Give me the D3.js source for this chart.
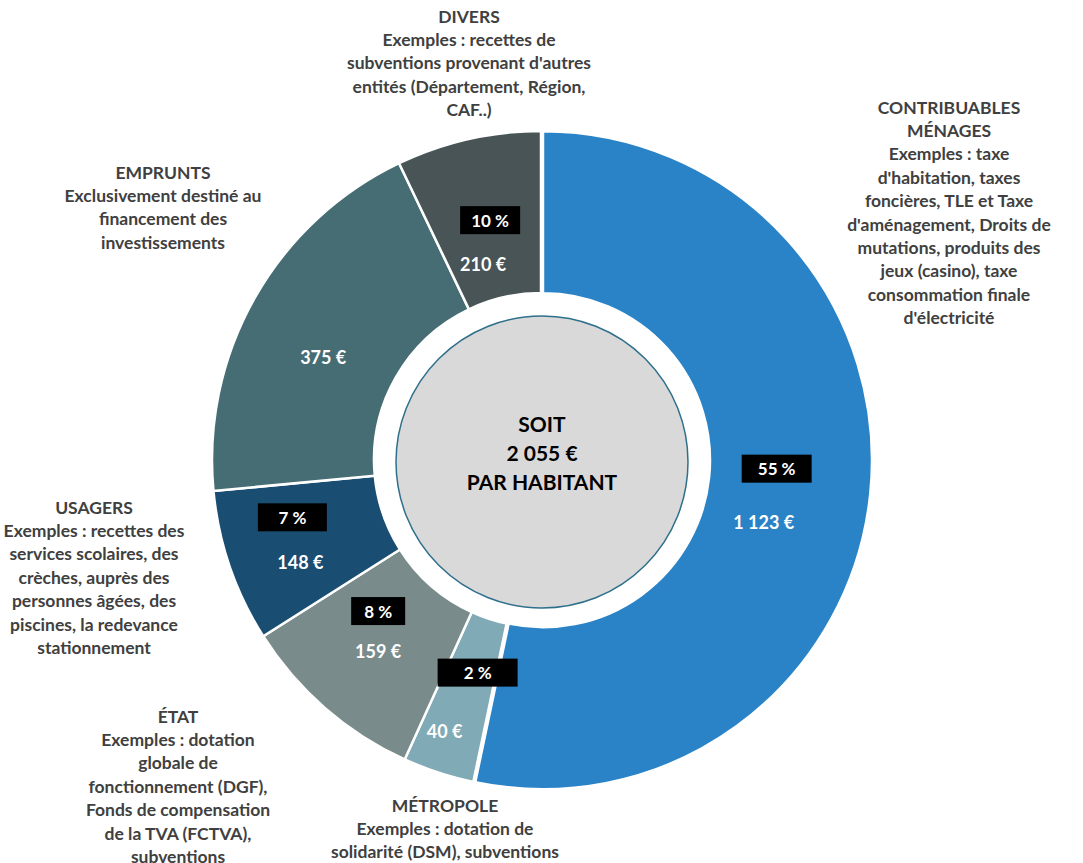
<!DOCTYPE html>
<html>
<head>
<meta charset="utf-8">
<script src="https://cdn.jsdelivr.net/npm/d3@7"></script>
<style>
  html, body { margin: 0; padding: 0; background: #fff; }
  svg { display: block; }
  text { font-family: Lato, "Open Sans", sans-serif; font-weight: bold; }
</style>
</head>
<body>
<svg id="chart" width="1083" height="863"></svg>
<script>
// -------------- DATA ----------------- //
const categories = ["CONTRIBUABLES MÉNAGES", "MÉTROPOLE", "ÉTAT", "USAGERS", "EMPRUNTS", "DIVERS"];
const amounts = [1123, 40, 159, 148, 375, 210];           // € par habitant (labels)
const percents = [55, 2, 8, 7, 18, 10];                   // % labels
const sliceShares = [53.3, 3.5, 9.2, 7.5, 19.4, 7.1];     // slice sizes as drawn (%)
const showPercent = [true, true, true, true, false, true];
const descriptions = [
    ["CONTRIBUABLES", "MÉNAGES", "Exemples : taxe", "d'habitation, taxes", "foncières, TLE et Taxe",
     "d'aménagement, Droits de", "mutations, produits des", "jeux (casino), taxe",
     "consommation finale", "d'électricité"],
    ["MÉTROPOLE", "Exemples : dotation de", "solidarité (DSM), subventions"],
    ["ÉTAT", "Exemples : dotation", "globale de", "fonctionnement (DGF),", "Fonds de compensation",
     "de la TVA (FCTVA),", "subventions"],
    ["USAGERS", "Exemples : recettes des", "services scolaires, des", "crèches, auprès des",
     "personnes âgées, des", "piscines, la redevance", "stationnement"],
    ["EMPRUNTS", "Exclusivement destiné au", "financement des", "investissements"],
    ["DIVERS", "Exemples : recettes de", "subventions provenant d'autres",
     "entités (Département, Région,", "CAF..)"]
];
const centerLines = ["SOIT", "2 055 €", "PAR HABITANT"];

// -------------- LAYOUT ----------------- //
const colors = ["#2983c6", "#80aab5", "#7a8b8b", "#1a4d72", "#466d74", "#485456"];
const cx = 541, cy = 460;
const outerR = 329, innerR = 167, discR = 146;
const lineH = 23.4;

// where the description blocks sit (center x, first line y)
const descPos = [[949, 107], [445, 805], [178, 716], [94, 507], [163, 172], [469, 16]];
// nudges of data labels relative to the slice centroid
const pctNudge = [[-11, -17], [14, -23], [0, -36], [-14, -23], null, [4, 2]];
const pctBoxW = [70, 80, 54, 69, 0, 60];
const valNudge = [[-24, 36], [-19, 35], [0, 4], [-6, 22], [-2, 19], [-3, 46]];

const svg = d3.select("#chart");
const fmtEuro = v => d3.format(",d")(v).replace(/,/g, " ") + " €";

const pie = d3.pie().sort(null).startAngle(0).endAngle(2 * Math.PI);
const arc = d3.arc().innerRadius(innerR).outerRadius(outerR);
const arcs = pie(sliceShares);

const g = svg.append("g").attr("transform", `translate(${cx}, ${cy})`);

g.selectAll("path.slice")
    .data(arcs)
    .join("path")
    .attr("class", "slice")
    .attr("d", arc)
    .attr("fill", (d, i) => colors[i])
    .attr("stroke", "#fff")
    .attr("stroke-width", 2.5)
    .attr("transform", (d, i) => {
        if (i !== 0) return null;
        // first slice is pulled out a little
        const mid = (d.startAngle + d.endAngle) / 2;
        return `translate(${2 * Math.sin(mid)}, ${-2 * Math.cos(mid)})`;
    });

// center disc
g.append("circle")
    .attr("cx", 1).attr("cy", 2)
    .attr("r", discR)
    .attr("fill", "#d9d9d9")
    .attr("stroke", "#2e6f8c")
    .attr("stroke-width", 1.5);

centerLines.forEach((t, i) => {
    g.append("text")
        .attr("x", 1)
        .attr("y", -37 + i * 29)
        .attr("text-anchor", "middle")
        .attr("dominant-baseline", "central")
        .attr("font-size", 21)
        .attr("fill", "#000")
        .text(t);
});

// data labels
arcs.forEach((d, i) => {
    const [px, py] = arc.centroid(d);
    if (showPercent[i]) {
        const bx = px + pctNudge[i][0], by = py + pctNudge[i][1];
        g.append("rect")
            .attr("x", bx - pctBoxW[i] / 2)
            .attr("y", by - 14)
            .attr("width", pctBoxW[i])
            .attr("height", 28)
            .attr("fill", "#000");
        g.append("text")
            .attr("x", bx)
            .attr("y", by)
            .attr("text-anchor", "middle")
            .attr("dominant-baseline", "central")
            .attr("font-size", 17)
            .attr("fill", "#fff")
            .text(percents[i] + " %");
    }
    g.append("text")
        .attr("x", px + valNudge[i][0])
        .attr("y", py + valNudge[i][1])
        .attr("text-anchor", "middle")
        .attr("dominant-baseline", "central")
        .attr("font-size", 18)
        .attr("fill", "#fff")
        .text(fmtEuro(amounts[i]));
});

// category descriptions
descriptions.forEach((lines, i) => {
    const t = svg.append("text")
        .attr("text-anchor", "middle")
        .attr("font-size", 17.5)
        .attr("fill", "#404040");
    lines.forEach((line, j) => {
        t.append("tspan")
            .attr("x", descPos[i][0])
            .attr("y", descPos[i][1] + j * lineH)
            .attr("dominant-baseline", "central")
            .text(line);
    });
});
</script>
</body>
</html>
